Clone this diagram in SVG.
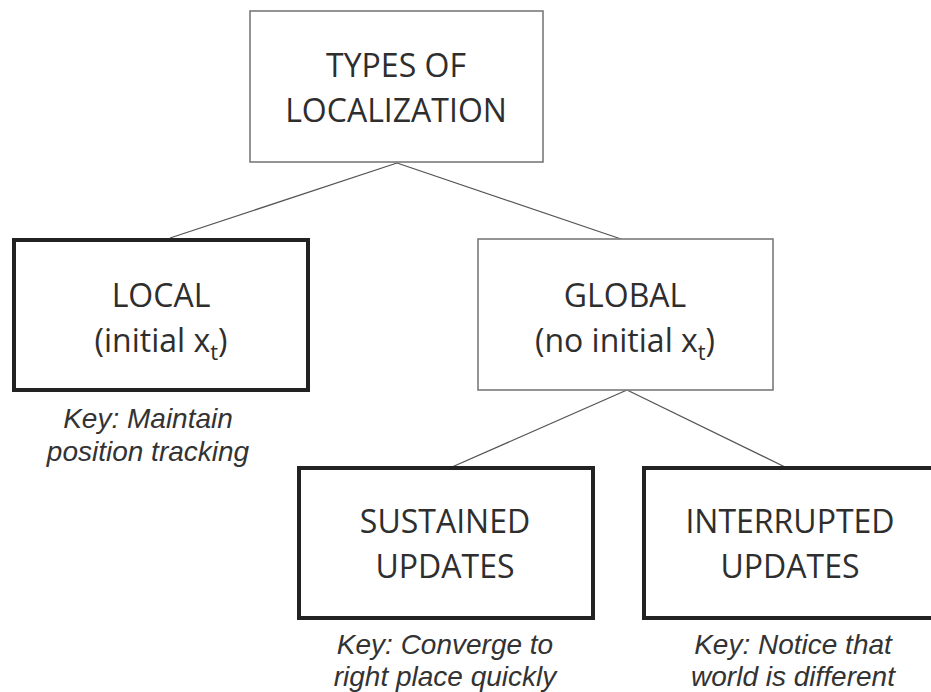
<svg xmlns="http://www.w3.org/2000/svg" width="931" height="692" viewBox="0 0 931 692">
<style>
.thin{fill:#fff;stroke:#7a7a7a;stroke-width:1.6}
.thick{fill:#fff;stroke:#222;stroke-width:4}
.lbl{font-family:"Open Sans","Noto Sans",sans-serif;font-size:32px;fill:#2e2e2e;text-anchor:middle}
.key{font-family:"Liberation Sans",Arial,sans-serif;font-style:italic;font-size:28px;fill:#333;text-anchor:middle}
.sub{font-size:22px}
.conn line{stroke:#555;stroke-width:1.3}
</style>
<rect width="931" height="692" fill="#fff"/>
<g class="conn" id="connectors">
<line x1="397" y1="163" x2="170" y2="238"/>
<line x1="397" y1="163" x2="621" y2="239"/>
<line x1="627" y1="390" x2="452" y2="467"/>
<line x1="627" y1="390" x2="785" y2="467"/>
</g>
<g id="types">
<rect class="thin" x="250" y="11" width="293" height="151"/>
<text class="lbl" x="396" y="77">TYPES OF</text>
<text class="lbl" x="396" y="122">LOCALIZATION</text>
</g>
<g id="local">
<rect class="thick" x="14" y="240" width="294" height="150"/>
<text class="lbl" x="161" y="307">LOCAL</text>
<text class="lbl" x="161" y="352">(initial x<tspan class="sub" dy="8">t</tspan><tspan dy="-8">)</tspan></text>
<text class="key" x="148" y="428">Key: Maintain</text>
<text class="key" x="148" y="461">position tracking</text>
</g>
<g id="global">
<rect class="thin" x="478" y="239" width="295" height="151"/>
<text class="lbl" x="625" y="307">GLOBAL</text>
<text class="lbl" x="625" y="352">(no initial x<tspan class="sub" dy="8">t</tspan><tspan dy="-8">)</tspan></text>
</g>
<g id="sustained">
<rect class="thick" x="299" y="468" width="294" height="150"/>
<text class="lbl" x="445" y="533">SUSTAINED</text>
<text class="lbl" x="445" y="578">UPDATES</text>
<text class="key" x="445" y="654">Key: Converge to</text>
<text class="key" x="445" y="686">right place quickly</text>
</g>
<g id="interrupted">
<rect class="thick" x="644" y="468" width="300" height="150"/>
<text class="lbl" x="790" y="533">INTERRUPTED</text>
<text class="lbl" x="790" y="578">UPDATES</text>
<text class="key" x="793" y="654">Key: Notice that</text>
<text class="key" x="793" y="686">world is different</text>
</g>
</svg>
